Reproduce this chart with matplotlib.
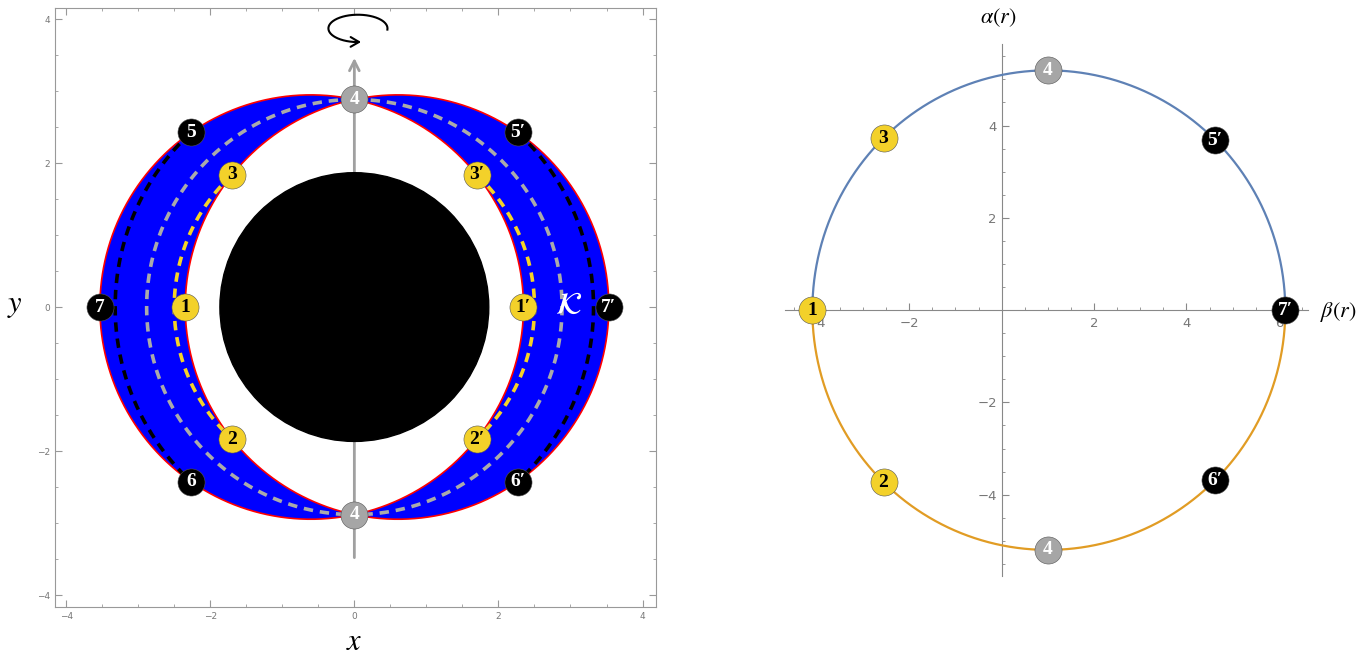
import numpy as np
import matplotlib.pyplot as plt
from matplotlib.patches import Circle

plt.rcParams['mathtext.fontset'] = 'stix'

# Kerr black hole with M = 1
spin = 0.5

# constant-r spherical photon orbits drawn dashed in the left panel
orbit_r = [2.5, 2.883, 3.32]
orbit_colors = ['#f5d327', '#aaaaaa', '#000000']
orbit_labels = [('3', '2'), ('4', '4'), ('5', '6')]

# labelled points on the shadow (right panel)
shadow_r = [2.56, 2.56, 3.0, 3.0, 3.385, 3.385]
shadow_sign = [1, -1, 1, -1, 1, -1]
shadow_labels = ['3', '2', '4', '4', '5′', '6′']

# badge style by first character: face colour, text colour
badge_style = {
    '1': ('#f3d12a', 'black'), '2': ('#f3d12a', 'black'), '3': ('#f3d12a', 'black'),
    '4': ('#a6a6a6', 'white'),
    '5': ('black', 'white'), '6': ('black', 'white'), '7': ('black', 'white'),
}

a = spin
r_hor = 1 + np.sqrt(1 - a * a)
r_pro = 2 * (1 + np.cos(2 / 3 * np.arccos(-a)))
r_retro = 2 * (1 + np.cos(2 / 3 * np.arccos(a)))


def xi(r):
    return -(r**3 - 3 * r**2 + a * a * r + a * a) / (a * (r - 1))


def eta(r):
    return -r**3 * (r**3 - 6 * r**2 + 9 * r - 4 * a * a) / (a * a * (r - 1)**2)


def theta_min(r):
    x, e = xi(r), np.maximum(eta(r), 0)
    b = e + x * x - a * a
    u = (-b + np.sqrt(b * b + 4 * a * a * e)) / (2 * a * a)
    return np.arccos(np.sqrt(np.clip(u, 0, 1)))


def badge(ax, x, y, label):
    face, txt = badge_style[label[0]]
    ax.plot(x, y, 'o', ms=19.5, mfc=face, mec='#555555', mew=0.4, zorder=10)
    ax.text(x, y, label, color=txt, ha='center', va='center', fontsize=14,
            fontweight='bold', family=['Liberation Serif', 'DejaVu Serif'], zorder=11)


fig = plt.figure(figsize=(13.7, 6.54), dpi=100)

# ---------------- left panel: photon region K ----------------
ax = fig.add_axes([55 / 1370, 0.0714, 600.5 / 1370, 0.9171])
ax.set_xlim(-4.155, 4.18)
ax.set_ylim(-4.17, 4.16)

t = np.linspace(0, np.pi, 2000)
rr = r_pro + (r_retro - r_pro) * (1 - np.cos(t)) / 2
th = theta_min(rr)
xb, yb = rr * np.sin(th), rr * np.cos(th)
px = np.concatenate([xb, xb[::-1]])
py = np.concatenate([yb, -yb[::-1]])
for s in (-1, 1):
    ax.fill(s * px, py, color='#0000ff', lw=0, zorder=1)
    ax.plot(s * px, py, color='#ff0000', lw=1.2, zorder=2)

for r, c in zip(orbit_r, orbit_colors):
    tm = theta_min(r)
    tt = np.linspace(tm, np.pi - tm, 300)
    for s in (-1, 1):
        ax.plot(s * r * np.sin(tt), r * np.cos(tt), color=c, lw=2.6,
                dashes=(2.6, 1.9), zorder=3)

# rotation axis and black hole
ax.annotate('', xy=(0, 3.46), xytext=(0, -3.48),
            arrowprops=dict(arrowstyle='->,head_length=0.7,head_width=0.35',
                            color='#a0a0a0', lw=2, shrinkA=0, shrinkB=0), zorder=4)
ax.add_patch(Circle((0, 0), r_hor, color='black', zorder=5))

ang = np.radians(np.linspace(-5, 268, 200))
ax.plot(0.05 + 0.41 * np.cos(ang), 3.87 + 0.19 * np.sin(ang), color='black', lw=1.5)
ang_end = np.radians([262, 276])
ax.annotate('', xy=(0.05 + 0.41 * np.cos(ang_end[1]), 3.87 + 0.19 * np.sin(ang_end[1])),
            xytext=(0.05 + 0.41 * np.cos(ang_end[0]), 3.87 + 0.19 * np.sin(ang_end[0])),
            arrowprops=dict(arrowstyle='->,head_length=0.6,head_width=0.35',
                            color='black', lw=1.5, shrinkA=0, shrinkB=0))

for s, suffix in ((-1, ''), (1, '′')):
    for r, (lab_top, lab_bot) in zip(orbit_r, orbit_labels):
        tm = theta_min(r)
        if lab_top == '4' and s == 1:
            continue
        top = lab_top if lab_top == '4' else lab_top + suffix
        bot = lab_bot if lab_bot == '4' else lab_bot + suffix
        badge(ax, s * r * np.sin(tm), r * np.cos(tm), top)
        badge(ax, s * r * np.sin(tm), -r * np.cos(tm), bot)
    badge(ax, s * r_pro, 0, '1' + suffix)
    badge(ax, s * r_retro, 0, '7' + suffix)

ax.text(2.98, 0.02, r'$\mathcal{K}$', color='white', fontsize=23,
        ha='center', va='center', zorder=6)

ax.set_xticks([-4, -2, 0, 2, 4])
ax.set_yticks([-4, -2, 0, 2, 4])
ax.set_xticks(np.arange(-4, 4.1, 0.5), minor=True)
ax.set_yticks(np.arange(-4, 4.1, 0.5), minor=True)
ax.tick_params(which='both', direction='in', top=True, right=True,
               color='#999999', labelcolor='#777777', labelsize=6.5)
ax.tick_params(which='major', length=5)
ax.tick_params(which='minor', length=2.5)
for sp in ax.spines.values():
    sp.set_color('#999999')

fig.text(354 / 1370, 1 - 641 / 654, '$x$', fontsize=22, ha='center', va='center')
fig.text(15 / 1370, 1 - 305 / 654, '$y$', fontsize=22, ha='center', va='center')

# ---------------- right panel: shadow ----------------
bx = fig.add_axes([785.4 / 1370, 0.1187, 522.6 / 1370, 0.8142])
bx.set_xlim(-4.68, 6.63)
bx.set_ylim(-5.77, 5.77)

rr = r_pro + (r_retro - r_pro) * (1 - np.cos(t)) / 2
beta = -xi(rr)
alpha = np.sqrt(np.maximum(eta(rr), 0))
bx.plot(beta, alpha, color='#5e81b5', lw=1.6, zorder=3)
bx.plot(beta, -alpha, color='#e19c24', lw=1.6, zorder=3)

for r, sg, lab in zip(shadow_r, shadow_sign, shadow_labels):
    badge(bx, -xi(r), sg * np.sqrt(eta(r)), lab)
badge(bx, -xi(r_pro), 0, '1')
badge(bx, -xi(r_retro), 0, '7′')

for side in ('top', 'right'):
    bx.spines[side].set_visible(False)
for side in ('left', 'bottom'):
    bx.spines[side].set_position(('data', 0))
    bx.spines[side].set_color('#888888')
bx.set_xticks([-4, -2, 2, 4, 6])
bx.set_yticks([-4, -2, 2, 4])
bx.set_xticks(np.arange(-4.5, 6.6, 0.5), minor=True)
bx.set_yticks(np.arange(-5.5, 5.6, 0.5), minor=True)
bx.tick_params(which='both', direction='in', color='#888888',
               labelcolor='#777777', labelsize=9.5)
bx.tick_params(axis='x', pad=5)
bx.tick_params(which='major', length=5)
bx.tick_params(which='minor', length=2.5)
bx.patch.set_alpha(0)

bx.text(-0.08, 6.33, r'$\alpha(r)$', fontsize=16, ha='center', va='center', clip_on=False)
bx.text(6.88, -0.05, r'$\beta(r)$', fontsize=16, ha='left', va='center', clip_on=False)

fig.savefig('out.png', dpi=100)
